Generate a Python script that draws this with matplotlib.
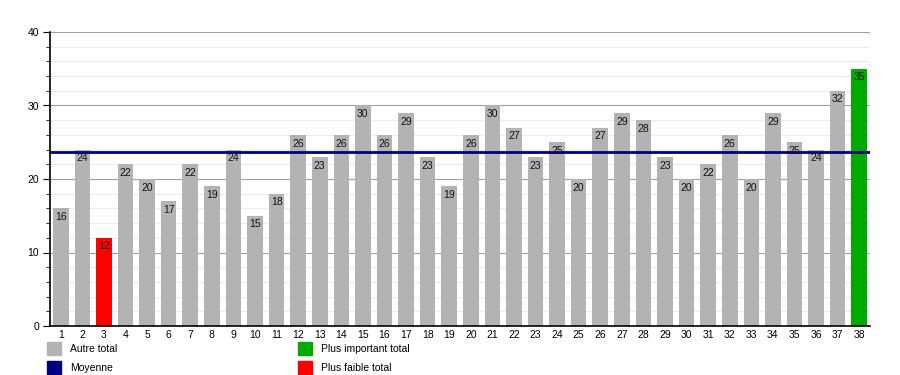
import matplotlib
matplotlib.use("Agg")
import matplotlib.pyplot as plt
from matplotlib.patches import Rectangle
import numpy as np

plt.rcParams['font.family'] = ['Liberation Sans', 'DejaVu Sans']

categories = [str(i) for i in range(1, 39)]
values = [16, 24, 12, 22, 20, 17, 22, 19, 24, 15, 18, 26, 23, 26, 30, 26, 29, 23, 19, 26,
          30, 27, 23, 25, 20, 27, 29, 28, 23, 20, 22, 26, 20, 29, 25, 24, 32, 35]
legend_labels = ["Autre total", "Moyenne", "Plus important total", "Plus faible total"]

GRAY = "#b3b3b3"
GREEN = "#00aa00"
RED = "#ff0000"
NAVY = "#000080"

vals = np.array(values)
mean = vals.mean()
colors = []
for v in vals:
    if v == vals.max():
        colors.append(GREEN)
    elif v == vals.min():
        colors.append(RED)
    else:
        colors.append(GRAY)

fig = plt.figure(figsize=(9, 3.75), dpi=100)
ax = fig.add_axes([50/900, 49/375, 820/900, 294/375])

x = np.arange(len(values))
ax.bar(x, vals, width=0.72, color=colors, zorder=2)
ax.axhline(mean, color=NAVY, lw=2.0, zorder=3)
for xi, v in zip(x, vals):
    ax.text(xi, v - 0.5, str(v), ha='center', va='top', fontsize=7.5, color='#111111', zorder=4)

ax.set_xlim(-0.5, len(values) - 0.5)
ax.set_ylim(0, 40)
ax.set_yticks([0, 10, 20, 30, 40])
ax.set_yticks(np.arange(0, 41, 2), minor=True)
ax.set_xticks(x)
ax.set_xticklabels(categories, fontsize=7.5)
ax.tick_params(axis='x', length=0, pad=3)
ax.tick_params(axis='y', which='major', length=5, labelsize=7.5, pad=3)
ax.tick_params(axis='y', which='minor', length=3)
ax.grid(axis='y', which='major', color='#a0a0a0', lw=0.8, zorder=0)
ax.grid(axis='y', which='minor', color='#ebebeb', lw=0.8, zorder=0)
for s in ['top', 'right']:
    ax.spines[s].set_visible(False)
ax.spines['left'].set_linewidth(1.2)
ax.spines['bottom'].set_linewidth(1.2)

legend_colors = [GRAY, NAVY, GREEN, RED]
positions = [(47, 342), (47, 361), (298, 342), (298, 361)]
for (px, py), c, lab in zip(positions, legend_colors, legend_labels):
    fig.patches.append(Rectangle((px/900, 1 - (py + 13)/375), 14/900, 13/375,
                                 transform=fig.transFigure, color=c, figure=fig))
    fig.text((px + 23)/900, 1 - (py + 7)/375, lab, fontsize=7.5, va='center', ha='left')

fig.savefig("out.png", dpi=100)
